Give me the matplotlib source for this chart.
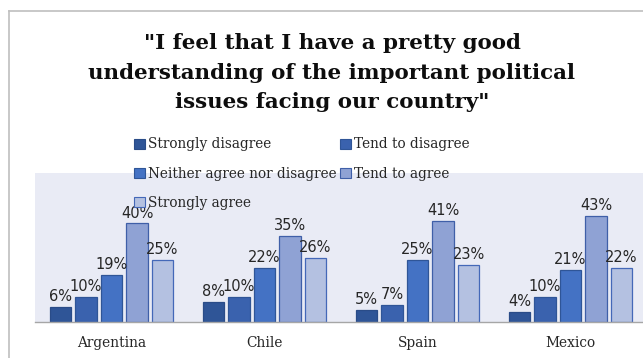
import matplotlib
matplotlib.use("Agg")
import matplotlib.pyplot as plt
from matplotlib.lines import Line2D
from matplotlib.patches import Patch
import numpy as np

countries = ["Argentina", "Chile", "Spain", "Mexico"]
responses = ["Strongly disagree", "Tend to disagree", "Neither agree nor disagree",
             "Tend to agree", "Strongly agree"]
strongly_disagree = [6, 8, 5, 4]
tend_to_disagree = [10, 10, 7, 10]
neither = [19, 22, 25, 21]
tend_to_agree = [40, 35, 41, 43]
strongly_agree = [25, 26, 23, 22]

series = [strongly_disagree, tend_to_disagree, neither, tend_to_agree, strongly_agree]
fills = ["#2F5597", "#3A62AE", "#4472C4", "#8FA2D4", "#B4C1E1"]
edges = ["#2A4C88", "#2F5597", "#2F5597", "#3F5FA8", "#4468B8"]

title_lines = ['"I feel that I have a pretty good',
               'understanding of the important political',
               'issues facing our country"']

W, H = 643, 358
fig = plt.figure(figsize=(W / 100, H / 100), dpi=100)
fig.patch.set_facecolor("white")

# chart frame (left and top border)
fig.add_artist(Line2D([9 / W, 9 / W], [0, 1 - 11 / H], color="#BFBFBF", lw=1.2))
fig.add_artist(Line2D([9 / W, 1], [1 - 11 / H, 1 - 11 / H], color="#BFBFBF", lw=1.2))

ax = fig.add_axes([35 / W, (H - 322) / H, 612 / W, 149 / H])
ax.set_facecolor("#E9EBF5")

x = np.arange(len(countries))
bw = 0.138
pitch = 0.1667
for i, (vals, fc, ec) in enumerate(zip(series, fills, edges)):
    pos = x + (i - 2) * pitch
    bars = ax.bar(pos, vals, width=bw, color=fc, edgecolor=ec, linewidth=0.9,
                  label=responses[i], zorder=2)
    for b, v in zip(bars, vals):
        ax.text(b.get_x() + b.get_width() / 2, v + 1.2, f"{v}%", ha="center",
                va="bottom", fontsize=10.5, color="#262626",
                family=["Liberation Sans Narrow", "DejaVu Sans"], zorder=3)

ax.set_xlim(-0.5, 3.5)
ax.set_ylim(0, 60.5)
ax.set_yticks([])
ax.set_xticks(x)
ax.set_xticklabels(countries, fontsize=9.9, family="DejaVu Serif", color="#262626")
ax.tick_params(axis="x", length=0, pad=10)
for s in ["top", "right", "left"]:
    ax.spines[s].set_visible(False)
ax.spines["bottom"].set_color("#A6A6A6")
ax.spines["bottom"].set_linewidth(1.0)

# title, three centred lines
title_y = [41, 71, 100]
for line, yc in zip(title_lines, title_y):
    fig.text(332 / W, 1 - yc / H, line, ha="center", va="center_baseline", fontsize=15.4,
             fontweight="bold", family="DejaVu Serif", color="#0D0D0D")

handles = [Patch(facecolor=fc, edgecolor=ec, linewidth=0.8) for fc, ec in zip(fills, edges)]
order = [0, 2, 4, 1, 3]
leg = fig.legend([handles[i] for i in order], [responses[i] for i in order],
                 ncol=2, loc="upper left", bbox_to_anchor=(129 / W, 1 - 132 / H),
                 frameon=False, prop={"family": "DejaVu Serif", "size": 9.8},
                 handlelength=0.8, handleheight=0.8, handletextpad=0.2,
                 columnspacing=0.25, labelspacing=1.12, borderaxespad=0,
                 labelcolor="#262626")

fig.savefig("out.png", dpi=100)
